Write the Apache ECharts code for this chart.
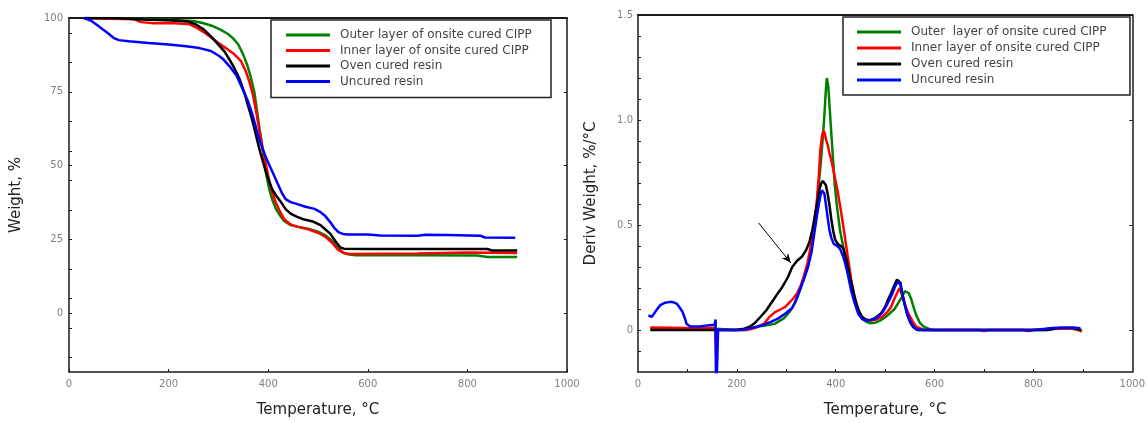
<!DOCTYPE html>
<html>
<head>
<meta charset="utf-8">
<title>TGA / DTG curves</title>
<script src="https://cdn.jsdelivr.net/npm/echarts@6/dist/echarts.min.js"></script>
<style>
  html, body { margin: 0; padding: 0; background: #fff; }
  #main { width: 1148px; height: 423px; }
</style>
</head>
<body>
<div id="main"></div>
<script>
// ---- data ----
// series names
var namesLeft = ['Outer layer of onsite cured CIPP', 'Inner layer of onsite cured CIPP', 'Oven cured resin', 'Uncured resin'];
var namesRight = ['Outer  layer of onsite cured CIPP', 'Inner layer of onsite cured CIPP', 'Oven cured resin', 'Uncured resin'];
var colors = ['#008000', '#ff0000', '#000000', '#0000ff'];

// tick values
var xLabels = [0, 200, 400, 600, 800, 1000];
var xMinorRight = [100, 200, 300, 400, 500, 600, 700, 800, 900];
var wLabels = [0, 25, 50, 75, 100];
var wTicks = [-15, -5, 0, 5, 15, 25, 35, 45, 50, 55, 65, 75, 85, 95];
var dLabels = [0, 0.5, 1.0, 1.5];
var dTicks = [-0.1, 0, 0.1, 0.2, 0.3, 0.4, 0.5, 0.6, 0.7, 0.8, 0.9, 1.0, 1.1, 1.2, 1.3, 1.4];

// weight %, [temperature, weight]
var wOuter = [[30,100],[100,99.8],[200,99.4],[250,99],[270,98.2],[290,97.2],[305,96],[320,94.5],[330,93],[340,91],
  [350,87.5],[358,84],[365,80],[372,75],[378,68],[384,61],[390,54],[396,47],[402,42],[408,38.5],[415,35.5],
  [422,33.5],[432,31.2],[445,29.8],[460,29.2],[480,28.6],[500,27.6],[515,26.3],[528,24.5],[540,22],[550,20.5],
  [560,19.9],[575,19.6],[700,19.6],[820,19.5],[840,19.0],[900,19.0]];
var wInner = [[30,100],[130,99.6],[145,98.6],[170,98.2],[200,98.3],[240,98],[255,96.8],[270,95.3],[285,93.5],
  [300,91.5],[315,89.8],[330,88],[345,85.5],[355,82],[362,78.5],[370,73.5],[376,68],[382,62],[388,56.5],
  [394,51.5],[400,46.5],[407,41.5],[415,37.5],[422,35],[432,31.8],[445,30],[460,29.2],[480,28.4],[500,27.2],
  [515,25.8],[530,23.5],[540,21.5],[552,20.3],[565,20],[700,20.2],[800,20.5],[900,20.3]];
var wOven = [[30,100],[100,99.9],[150,99.5],[200,99.2],[240,98.8],[255,97.8],[270,96.2],[285,93.8],[300,91],
  [312,88.7],[322,86],[332,83],[342,79.5],[352,74.7],[360,70],[367,66],[373,62],[378,58.5],[384,54.5],[390,51],
  [396,47.5],[402,44.5],[408,42],[415,40],[424,38],[435,35.2],[445,33.7],[457,32.7],[470,31.8],[490,31],
  [505,29.8],[515,28.3],[525,26.8],[535,24.3],[545,22.2],[552,21.8],[600,21.7],[700,21.7],[840,21.7],[850,21.2],[900,21.2]];
var wUncured = [[30,100],[45,99],[55,97.8],[65,96.5],[77,95],[90,93.2],[100,92.5],[120,92.1],[160,91.5],[200,91],
  [235,90.4],[262,89.8],[285,88.8],[300,87.3],[310,86],[322,83.7],[337,80.3],[352,74.7],[360,71.5],[367,68],
  [373,64.5],[378,61.2],[384,58],[389,55.6],[396,52.5],[404,49.5],[412,46.5],[420,43.5],[428,40.5],[435,38.6],
  [445,37.6],[457,37],[475,36],[493,35.3],[504,34.3],[514,33],[524,30.9],[533,28.8],[541,27.4],[550,26.8],
  [560,26.6],[600,26.6],[625,26.3],[700,26.2],[715,26.5],[760,26.4],[826,26.2],[835,25.6],[896,25.5]];

// derivative weight %/°C, [temperature, value]
var dOuter = [[25,0.008],[100,0.008],[157,0.006],[160,0.002],[200,0],[215,0.002],[241,0.016],[260,0.022],[277,0.03],
  [295,0.055],[307,0.087],[318,0.13],[329,0.2],[338,0.26],[347,0.34],[353,0.42],[358,0.5],[362,0.6],[366,0.7],
  [370,0.8],[374,0.92],[377,1.02],[380,1.14],[382,1.2],[385,1.16],[388,1.05],[391,0.94],[395,0.8],[398,0.69],
  [403,0.58],[409,0.47],[415,0.4],[420,0.34],[426,0.27],[431,0.21],[438,0.14],[446,0.087],[453,0.055],[461,0.04],
  [470,0.032],[480,0.035],[490,0.045],[500,0.06],[510,0.08],[519,0.1],[527,0.13],[534,0.158],[540,0.185],
  [544,0.19],[548,0.175],[553,0.145],[558,0.105],[563,0.07],[570,0.035],[578,0.016],[590,0.004],[600,0],
  [820,0],[830,0.008],[870,0.01],[880,0.006],[895,-0.002]];
var dInner = [[25,0.012],[100,0.01],[156,0.01],[158,-0.12],[160,0],[220,0],[240,0.012],[255,0.03],[265,0.06],
  [277,0.085],[290,0.1],[299,0.112],[306,0.13],[314,0.15],[322,0.175],[329,0.21],[336,0.26],[343,0.32],[348,0.38],
  [354,0.47],[358,0.54],[362,0.62],[366,0.74],[369,0.86],[372,0.92],[375,0.95],[378,0.935],[380,0.91],[384,0.88],
  [387,0.845],[392,0.8],[398,0.73],[404,0.66],[409,0.59],[415,0.5],[420,0.42],[425,0.34],[431,0.245],[438,0.16],
  [446,0.095],[453,0.062],[461,0.047],[472,0.045],[483,0.05],[495,0.065],[505,0.087],[512,0.11],[519,0.15],
  [525,0.18],[529,0.2],[533,0.175],[538,0.14],[543,0.1],[549,0.07],[556,0.04],[563,0.016],[578,0],[690,0],
  [700,-0.005],[710,0],[780,0],[790,-0.005],[800,0],[840,0.005],[870,0.008],[890,0.002],[898,-0.008]];
var dOven = [[25,0],[100,0],[156,0],[197,0],[215,0.006],[226,0.016],[237,0.035],[248,0.063],[260,0.095],[270,0.13],
  [280,0.165],[292,0.205],[303,0.25],[312,0.3],[322,0.33],[332,0.35],[340,0.38],[347,0.42],[353,0.48],[358,0.545],
  [363,0.61],[367,0.67],[371,0.7],[374,0.71],[377,0.705],[380,0.69],[384,0.645],[387,0.6],[391,0.53],[395,0.47],
  [399,0.43],[404,0.41],[410,0.4],[415,0.39],[420,0.35],[424,0.31],[430,0.24],[436,0.18],[442,0.12],[448,0.085],
  [453,0.063],[461,0.05],[468,0.047],[476,0.052],[483,0.063],[492,0.08],[500,0.11],[505,0.14],[512,0.175],
  [519,0.215],[524,0.24],[527,0.245],[531,0.225],[534,0.18],[539,0.125],[545,0.07],[550,0.04],[556,0.016],
  [565,0],[830,0],[850,0.01],[880,0.01],[897,0]];
var dUncured = [[21,0.07],[28,0.063],[36,0.09],[45,0.118],[55,0.13],[65,0.134],[72,0.132],[79,0.124],[85,0.105],
  [90,0.087],[95,0.055],[98,0.03],[105,0.018],[125,0.017],[140,0.022],[155,0.025],[157,0.05],[158,-0.35],
  [160,-0.35],[162,0],[211,0],[230,0.01],[241,0.016],[255,0.025],[270,0.04],[285,0.057],[299,0.08],[312,0.105],
  [321,0.15],[329,0.2],[336,0.245],[344,0.3],[351,0.37],[356,0.45],[362,0.545],[366,0.6],[369,0.64],[372,0.665],
  [374,0.67],[377,0.65],[380,0.6],[384,0.53],[387,0.48],[391,0.44],[396,0.41],[403,0.4],[409,0.385],[415,0.35],
  [420,0.31],[425,0.26],[431,0.19],[438,0.13],[446,0.075],[453,0.053],[461,0.045],[472,0.048],[483,0.058],
  [495,0.085],[505,0.126],[512,0.16],[519,0.2],[523,0.22],[527,0.23],[531,0.215],[534,0.18],[539,0.13],
  [545,0.075],[552,0.035],[560,0.008],[570,0],[800,0],[820,0.005],[840,0.01],[880,0.012],[895,0.008]];

// arrow annotation on the derivative plot
var arrowFrom = [244, 0.51];
var arrowTo = [309, 0.32];

// ---- chart ----
var myChart = echarts.init(document.getElementById('main'), null, { renderer: 'canvas' });

var font = 'DejaVu Sans';
var axisColor = '#1a1a1a';
var tickLabel = { color: '#808080', fontSize: 10, fontFamily: font };
var axisName = { color: '#222', fontSize: 15, fontFamily: font };

function frameAxis(grid, pos, ticks, width) {
  return {
    type: 'value', gridIndex: grid, position: pos,
    min: pos === 'top' ? 0 : (grid === 0 ? -20 : -0.2),
    max: pos === 'top' ? 1000 : (grid === 0 ? 100 : 1.5),
    axisLine: { show: true, onZero: false, lineStyle: { color: axisColor, width: width } },
    axisTick: ticks ? { show: true, inside: true, length: 3, customValues: ticks, lineStyle: { color: axisColor } } : { show: false },
    axisLabel: { show: false },
    splitLine: { show: false }
  };
}

function lineSeries(name, data, color, x, y) {
  return {
    name: name, type: 'line', data: data, xAxisIndex: x, yAxisIndex: y,
    showSymbol: false, symbol: 'none', clip: true,
    lineStyle: { color: color, width: 2.5 }, itemStyle: { color: color },
    animation: false
  };
}

function legendBox(left, top, names, pad, gap, textWidth) {
  return {
    orient: 'vertical', left: left, top: top, data: names,
    selectedMode: false,
    icon: 'rect', itemWidth: 44, itemHeight: 3, itemGap: gap,
    padding: pad,
    borderColor: '#222', borderWidth: 1.5, backgroundColor: '#fff',
    textStyle: { color: '#444', fontSize: 12, fontFamily: font, width: textWidth, overflow: 'none', lineHeight: 12, padding: [0, 0, 0, 5] }
  };
}

function plainNumber(v) { return String(v); }

var option = {
  backgroundColor: '#fff',
  animation: false,
  grid: [
    { left: 69, top: 18, width: 498, height: 356 },
    { left: 638, top: 15, width: 499, height: 359 }
  ],
  legend: [
    legendBox(271, 20, namesLeft, [9, 11, 10, 15], 3.5, 200),
    legendBox(843, 17, namesRight, [9, 13, 9, 14], 4, 206)
  ],
  xAxis: [
    {
      type: 'value', gridIndex: 0, position: 'bottom', min: 0, max: 1000, interval: 200,
      name: 'Temperature, °C', nameLocation: 'middle', nameGap: 31, nameTextStyle: axisName,
      axisLine: { show: true, onZero: false, lineStyle: { color: axisColor, width: 1.5 } },
      axisTick: { show: true, inside: true, length: 3, lineStyle: { color: axisColor } },
      axisLabel: Object.assign({ margin: 7, customValues: xLabels, formatter: plainNumber }, tickLabel),
      splitLine: { show: false }
    },
    frameAxis(0, 'top', null, 2),
    {
      type: 'value', gridIndex: 1, position: 'bottom', min: 0, max: 1000, interval: 200,
      name: 'Temperature, °C', nameLocation: 'middle', nameGap: 31, nameTextStyle: axisName,
      axisLine: { show: true, onZero: false, lineStyle: { color: axisColor, width: 1.5 } },
      axisTick: { show: true, inside: true, length: 3, customValues: xMinorRight, lineStyle: { color: axisColor } },
      axisLabel: Object.assign({ margin: 7, customValues: xLabels, formatter: plainNumber }, tickLabel),
      splitLine: { show: false }
    },
    frameAxis(1, 'top', null, 2)
  ],
  yAxis: [
    {
      type: 'value', gridIndex: 0, position: 'left', min: -20, max: 100,
      name: 'Weight, %', nameLocation: 'middle', nameGap: 45, nameTextStyle: axisName,
      axisLine: { show: true, onZero: false, lineStyle: { color: axisColor, width: 1.5 } },
      axisTick: { show: true, inside: true, length: 3, customValues: wTicks, lineStyle: { color: axisColor } },
      axisLabel: Object.assign({ margin: 6, customValues: wLabels }, tickLabel),
      splitLine: { show: false }
    },
    frameAxis(0, 'right', [0, 25, 50, 75], 1.5),
    {
      type: 'value', gridIndex: 1, position: 'left', min: -0.2, max: 1.5,
      name: 'Deriv Weight, %/°C', nameLocation: 'middle', nameGap: 39, nameTextStyle: axisName,
      axisLine: { show: true, onZero: false, lineStyle: { color: axisColor, width: 1.5 } },
      axisTick: { show: true, inside: true, length: 3, customValues: dTicks, lineStyle: { color: axisColor } },
      axisLabel: Object.assign({
        margin: 5, customValues: dLabels,
        formatter: function (v) { return v === 0 ? '0' : v.toFixed(1); }
      }, tickLabel),
      splitLine: { show: false }
    },
    frameAxis(1, 'right', [0, 0.5, 1.0], 1.5)
  ],
  series: [
    lineSeries(namesLeft[0], wOuter, colors[0], 0, 0),
    lineSeries(namesLeft[1], wInner, colors[1], 0, 0),
    lineSeries(namesLeft[2], wOven, colors[2], 0, 0),
    lineSeries(namesLeft[3], wUncured, colors[3], 0, 0),
    lineSeries(namesRight[0], dOuter, colors[0], 2, 2),
    lineSeries(namesRight[1], dInner, colors[1], 2, 2),
    Object.assign(lineSeries(namesRight[2], dOven, colors[2], 2, 2), {
      markLine: {
        silent: true, animation: false,
        symbol: ['none', 'arrow'], symbolSize: [6, 9],
        label: { show: false },
        lineStyle: { color: '#000', width: 1, type: 'solid' },
        data: [[{ coord: arrowFrom }, { coord: arrowTo }]]
      }
    }),
    lineSeries(namesRight[3], dUncured, colors[3], 2, 2)
  ]
};

myChart.setOption(option);
</script>
</body>
</html>
